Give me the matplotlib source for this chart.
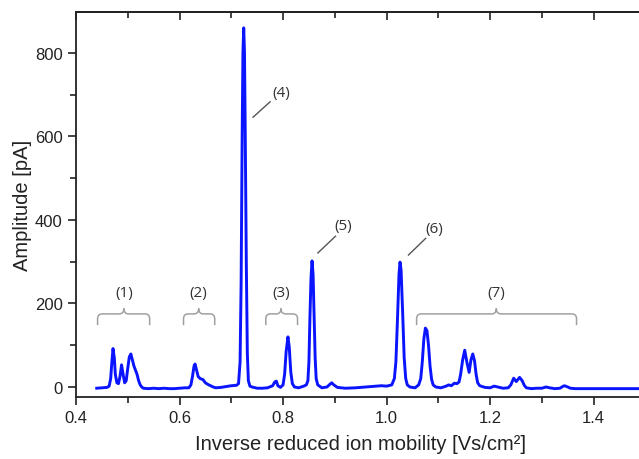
import matplotlib
matplotlib.use("Agg")
import matplotlib.pyplot as plt
from matplotlib.path import Path
from matplotlib.patches import PathPatch
from matplotlib.ticker import MultipleLocator

# Spectrum: inverse reduced ion mobility [Vs/cm²] vs amplitude [pA]
mobility = [
    0.440, 0.450, 0.460, 0.464, 0.467, 0.469, 0.4715, 0.474, 0.476, 0.479,
    0.482, 0.485, 0.488, 0.491, 0.494, 0.497, 0.500, 0.503, 0.506, 0.509,
    0.512, 0.515, 0.518, 0.521, 0.524, 0.527, 0.530, 0.540, 0.550, 0.560,
    0.570, 0.580, 0.590, 0.600, 0.610, 0.618, 0.622, 0.625, 0.628, 0.630,
    0.633, 0.636, 0.640, 0.645, 0.650, 0.655, 0.660, 0.665, 0.670, 0.680,
    0.690, 0.700, 0.710, 0.714, 0.717, 0.719, 0.721, 0.7225, 0.724, 0.7255,
    0.727, 0.729, 0.731, 0.733, 0.736, 0.740, 0.750, 0.760, 0.770, 0.780,
    0.784, 0.787, 0.790, 0.795, 0.800, 0.803, 0.806, 0.8095, 0.812, 0.815,
    0.818, 0.822, 0.830, 0.840, 0.845, 0.848, 0.850, 0.852, 0.854, 0.856,
    0.858, 0.860, 0.862, 0.864, 0.867, 0.875, 0.885, 0.890, 0.894, 0.898,
    0.905, 0.920, 0.940, 0.960, 0.980, 0.990, 1.000, 1.010, 1.015, 1.018,
    1.021, 1.024, 1.026, 1.028, 1.031, 1.034, 1.037, 1.040, 1.045, 1.055,
    1.062, 1.066, 1.069, 1.072, 1.075, 1.078, 1.081, 1.084, 1.087, 1.090,
    1.095, 1.105, 1.115, 1.120, 1.125, 1.131, 1.136, 1.140, 1.143, 1.147,
    1.151, 1.155, 1.1595, 1.163, 1.1665, 1.170, 1.173, 1.176, 1.180, 1.190,
    1.200, 1.2077, 1.215, 1.225, 1.235, 1.240, 1.2456, 1.2506, 1.257, 1.262,
    1.266, 1.270, 1.280, 1.290, 1.300, 1.308, 1.315, 1.325, 1.335, 1.340,
    1.3436, 1.350, 1.355, 1.365, 1.380, 1.400, 1.420, 1.440, 1.460, 1.485,
]
amplitude = [
    -3, -2, -1, 2, 20, 55, 92, 70, 30, 10,
    8, 25, 53, 30, 10, 15, 45, 72, 79, 65,
    50, 40, 30, 15, 5, 0, -3, -4, -3, -4,
    -3, -4, -4, -3, -2, -2, 5, 25, 50, 55,
    40, 25, 20, 18, 10, 6, 3, 0, -2, -1,
    1, 3, 4, 8, 60, 250, 600, 800, 860, 800,
    600, 300, 80, 15, 2, 0, -3, -3, -2, 3,
    12, 14, 3, -1, 5, 30, 85, 120, 95, 35,
    8, 0, -2, 2, 5, 15, 60, 170, 260, 302,
    270, 170, 70, 20, 5, -2, 0, 6, 10, 5,
    -1, -3, -2, 0, 2, 3, 2, 5, 20, 60,
    160, 270, 299, 280, 180, 70, 20, 5, 0, -2,
    5, 20, 60, 115, 141, 135, 100, 50, 18, 5,
    0, -2, 2, 5, 3, 9, 8, 12, 30, 65,
    88, 60, 35, 65, 79, 62, 30, 10, 3, -1,
    -2, 2, 0, -3, -2, 5, 21, 13, 23, 15,
    4, -2, -4, -3, -3, 0, -2, -4, -3, 1,
    3, 0, -3, -4, -4, -4, -4, -4, -4, -4,
]

peak_labels = ["(1)", "(2)", "(3)", "(4)", "(5)", "(6)", "(7)"]

fig = plt.figure(figsize=(6.39, 4.60), dpi=100)
ax = fig.add_axes([76 / 639, 1 - 398 / 460, 1 - 76 / 639 + 0.01, (398 - 13) / 460])

ax.plot(mobility, amplitude, color="#0a14ff", lw=2.1, solid_joinstyle="round")

XLIM = (0.4, 1.50)
ax.set_xlim(*XLIM)
ax.set_ylim(-24, 898)
ax.spines["right"].set_visible(False)
for s in ["left", "bottom", "top"]:
    ax.spines[s].set_linewidth(1.3)
    ax.spines[s].set_color("#222222")

ax.xaxis.set_major_locator(MultipleLocator(0.2))
ax.xaxis.set_minor_locator(MultipleLocator(0.1))
ax.yaxis.set_major_locator(MultipleLocator(200))
ax.yaxis.set_minor_locator(MultipleLocator(100))
ax.tick_params(axis="x", which="both", direction="out", top=False)
ax.tick_params(axis="y", which="both", direction="out", right=False)
ax.tick_params(which="major", length=6, width=1.2, labelsize=12, colors="#222222")
ax.tick_params(which="minor", length=4, width=1.2, colors="#222222")
for lbl in ax.get_xticklabels() + ax.get_yticklabels():
    lbl.set_fontfamily("Liberation Sans")

# top axis ticks pointing inward, no labels
top = ax.twiny()
top.set_xlim(*XLIM)
top.xaxis.set_major_locator(MultipleLocator(0.2))
top.xaxis.set_minor_locator(MultipleLocator(0.1))
top.tick_params(axis="x", which="both", direction="in", labeltop=False,
                labelbottom=False, bottom=False, top=True, width=1.2, colors="#222222")
top.tick_params(axis="x", which="major", length=6)
top.tick_params(axis="x", which="minor", length=4)
top.tick_params(axis="y", which="both", left=False, right=False,
                labelleft=False, labelright=False)
for s in ["left", "bottom", "right"]:
    top.spines[s].set_visible(False)
top.spines["top"].set_linewidth(1.3)
top.spines["top"].set_color("#222222")

ax.set_xlabel("Inverse reduced ion mobility [Vs/cm²]", fontsize=14.5,
              family="Liberation Sans", color="#222222", labelpad=6)
ax.set_ylabel("Amplitude [pA]", fontsize=14.5, family="Liberation Sans",
              color="#222222", labelpad=2)

# curly braces
def brace(x0, x1, xm, y_end=148, y_line=175, y_tip=188, dx=0.009, dy=12):
    verts = [
        (x0, y_end), (x0, y_line - dy), (x0, y_line), (x0 + dx, y_line),
        (xm - dx, y_line), (xm, y_line), (xm, y_tip),
        (xm, y_line), (xm + dx, y_line),
        (x1 - dx, y_line), (x1, y_line), (x1, y_line - dy), (x1, y_end),
    ]
    codes = [Path.MOVETO, Path.LINETO, Path.CURVE3, Path.CURVE3,
             Path.LINETO, Path.CURVE3, Path.CURVE3,
             Path.CURVE3, Path.CURVE3,
             Path.LINETO, Path.CURVE3, Path.CURVE3, Path.LINETO]
    ax.add_patch(PathPatch(Path(verts, codes), fill=False, ec="#a0a0a0", lw=1.1))

brace_spans = [(0.4417, 0.5423, 0.4925), (0.6077, 0.668, 0.637),
               (0.7667, 0.828, 0.796), (1.058, 1.367, 1.212)]
for (x0, x1, xm), lab in zip(brace_spans, [peak_labels[0], peak_labels[1], peak_labels[2], peak_labels[6]]):
    brace(x0, x1, xm)
    ax.text(xm, 227, lab, ha="center", va="center", fontsize=11,
            family="Open Sans", color="#333333")

# leader lines for (4), (5), (6)
leaders = [((0.742, 646), (0.775, 683), (0.797, 705), peak_labels[3]),
           ((0.8673, 321), (0.9013, 361), (0.9154, 386), peak_labels[4]),
           ((1.0423, 316), (1.0756, 356), (1.092, 379), peak_labels[5])]
for p0, p1, pt, lab in leaders:
    ax.plot([p0[0], p1[0]], [p0[1], p1[1]], color="#555555", lw=1.0)
    ax.text(pt[0], pt[1], lab, ha="center", va="center", fontsize=11,
            family="Open Sans", color="#333333")

fig.savefig("out.png", dpi=100)
